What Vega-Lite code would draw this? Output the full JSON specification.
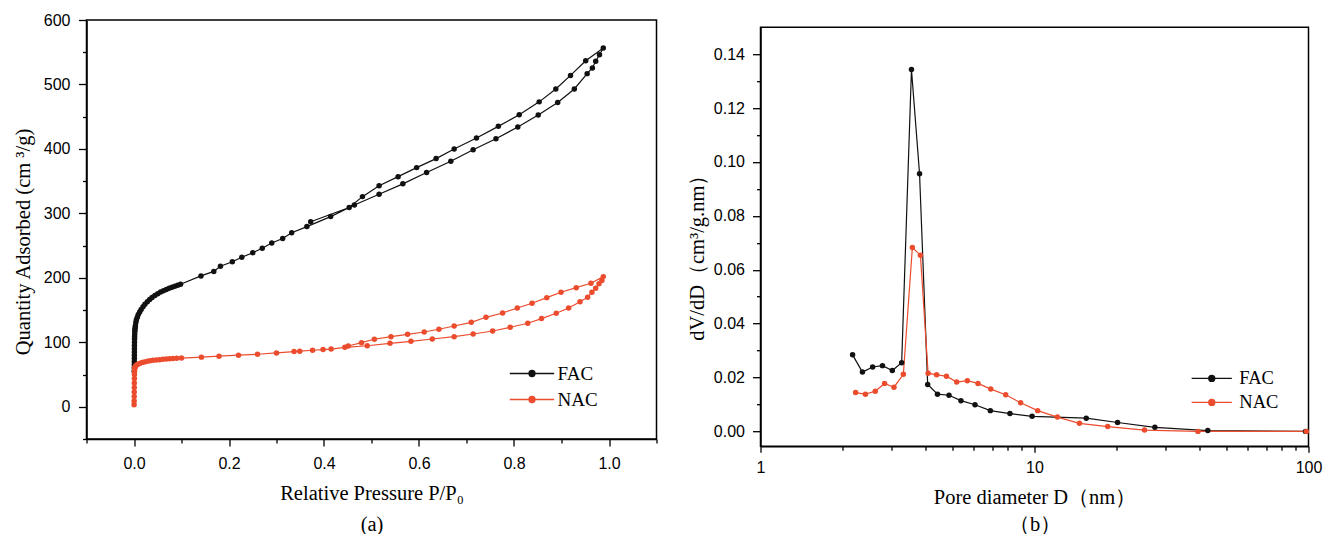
{
  "$schema": "https://vega.github.io/schema/vega-lite/v6.json",
  "background": "white",
  "padding": {"left": 11.5, "top": 11, "right": 0, "bottom": 0},
  "spacing": 28,
  "config": {
    "view": {"stroke": "#000000", "strokeWidth": 1.5},
    "axis": {
      "domainColor": "#000000", "domainWidth": 1.5, "tickColor": "#000000", "tickWidth": 1.3,
      "labelFont": "Liberation Sans", "labelFontSize": 16, "labelColor": "#000000",
      "titleFont": "Liberation Serif", "titleFontSize": 20.5, "titleFontWeight": "normal", "titleColor": "#000000",
      "grid": false, "labelFlush": false, "labelOverlap": false
    },
    "legend": {"labelFont": "Liberation Serif", "labelColor": "#000000", "padding": 0, "title": null}
  },
  "resolve": {"scale": {"color": "independent"}, "legend": {"color": "independent"}},
  "datasets": {
    "iso": [
      {"sample": "FAC", "i": 1, "p": 0.0005, "q": 55},
      {"sample": "FAC", "i": 2, "p": 0.0006, "q": 60},
      {"sample": "FAC", "i": 3, "p": 0.0007, "q": 65},
      {"sample": "FAC", "i": 4, "p": 0.0007, "q": 70},
      {"sample": "FAC", "i": 5, "p": 0.0008, "q": 75},
      {"sample": "FAC", "i": 6, "p": 0.0008, "q": 80},
      {"sample": "FAC", "i": 7, "p": 0.0009, "q": 85},
      {"sample": "FAC", "i": 8, "p": 0.0009, "q": 90},
      {"sample": "FAC", "i": 9, "p": 0.001, "q": 95},
      {"sample": "FAC", "i": 10, "p": 0.0011, "q": 100},
      {"sample": "FAC", "i": 11, "p": 0.0012, "q": 105},
      {"sample": "FAC", "i": 12, "p": 0.0013, "q": 109},
      {"sample": "FAC", "i": 13, "p": 0.0015, "q": 113},
      {"sample": "FAC", "i": 14, "p": 0.0017, "q": 117},
      {"sample": "FAC", "i": 15, "p": 0.002, "q": 120},
      {"sample": "FAC", "i": 16, "p": 0.0025, "q": 123},
      {"sample": "FAC", "i": 17, "p": 0.003, "q": 126},
      {"sample": "FAC", "i": 18, "p": 0.004, "q": 131},
      {"sample": "FAC", "i": 19, "p": 0.005, "q": 135},
      {"sample": "FAC", "i": 20, "p": 0.007, "q": 139},
      {"sample": "FAC", "i": 21, "p": 0.009, "q": 143},
      {"sample": "FAC", "i": 22, "p": 0.012, "q": 147},
      {"sample": "FAC", "i": 23, "p": 0.015, "q": 151},
      {"sample": "FAC", "i": 24, "p": 0.019, "q": 155},
      {"sample": "FAC", "i": 25, "p": 0.023, "q": 159},
      {"sample": "FAC", "i": 26, "p": 0.028, "q": 163},
      {"sample": "FAC", "i": 27, "p": 0.033, "q": 166.5},
      {"sample": "FAC", "i": 28, "p": 0.038, "q": 169.5},
      {"sample": "FAC", "i": 29, "p": 0.044, "q": 172.5},
      {"sample": "FAC", "i": 30, "p": 0.05, "q": 175.5},
      {"sample": "FAC", "i": 31, "p": 0.056, "q": 178},
      {"sample": "FAC", "i": 32, "p": 0.062, "q": 180},
      {"sample": "FAC", "i": 33, "p": 0.068, "q": 182},
      {"sample": "FAC", "i": 34, "p": 0.074, "q": 184},
      {"sample": "FAC", "i": 35, "p": 0.08, "q": 185.5},
      {"sample": "FAC", "i": 36, "p": 0.086, "q": 187},
      {"sample": "FAC", "i": 37, "p": 0.092, "q": 188.5},
      {"sample": "FAC", "i": 38, "p": 0.098, "q": 190},
      {"sample": "FAC", "i": 39, "p": 0.141, "q": 203},
      {"sample": "FAC", "i": 40, "p": 0.168, "q": 210},
      {"sample": "FAC", "i": 41, "p": 0.182, "q": 218},
      {"sample": "FAC", "i": 42, "p": 0.207, "q": 225},
      {"sample": "FAC", "i": 43, "p": 0.227, "q": 232},
      {"sample": "FAC", "i": 44, "p": 0.25, "q": 239},
      {"sample": "FAC", "i": 45, "p": 0.27, "q": 246},
      {"sample": "FAC", "i": 46, "p": 0.29, "q": 254},
      {"sample": "FAC", "i": 47, "p": 0.313, "q": 261},
      {"sample": "FAC", "i": 48, "p": 0.332, "q": 270},
      {"sample": "FAC", "i": 49, "p": 0.364, "q": 279.5},
      {"sample": "FAC", "i": 50, "p": 0.414, "q": 295},
      {"sample": "FAC", "i": 51, "p": 0.464, "q": 313},
      {"sample": "FAC", "i": 52, "p": 0.516, "q": 329.8},
      {"sample": "FAC", "i": 53, "p": 0.566, "q": 345.8},
      {"sample": "FAC", "i": 54, "p": 0.616, "q": 363.4},
      {"sample": "FAC", "i": 55, "p": 0.667, "q": 381},
      {"sample": "FAC", "i": 56, "p": 0.714, "q": 398.7},
      {"sample": "FAC", "i": 57, "p": 0.762, "q": 415.7},
      {"sample": "FAC", "i": 58, "p": 0.808, "q": 434},
      {"sample": "FAC", "i": 59, "p": 0.851, "q": 452.6},
      {"sample": "FAC", "i": 60, "p": 0.892, "q": 472},
      {"sample": "FAC", "i": 61, "p": 0.927, "q": 493},
      {"sample": "FAC", "i": 62, "p": 0.954, "q": 516.8},
      {"sample": "FAC", "i": 63, "p": 0.965, "q": 525.6},
      {"sample": "FAC", "i": 64, "p": 0.972, "q": 536},
      {"sample": "FAC", "i": 65, "p": 0.98, "q": 546},
      {"sample": "FAC", "i": 66, "p": 0.988, "q": 556.5},
      {"sample": "FAC", "i": 67, "p": 0.951, "q": 536.8},
      {"sample": "FAC", "i": 68, "p": 0.919, "q": 514},
      {"sample": "FAC", "i": 69, "p": 0.888, "q": 493},
      {"sample": "FAC", "i": 70, "p": 0.853, "q": 473},
      {"sample": "FAC", "i": 71, "p": 0.811, "q": 453},
      {"sample": "FAC", "i": 72, "p": 0.767, "q": 435},
      {"sample": "FAC", "i": 73, "p": 0.721, "q": 417},
      {"sample": "FAC", "i": 74, "p": 0.674, "q": 400},
      {"sample": "FAC", "i": 75, "p": 0.636, "q": 385},
      {"sample": "FAC", "i": 76, "p": 0.595, "q": 371},
      {"sample": "FAC", "i": 77, "p": 0.556, "q": 357},
      {"sample": "FAC", "i": 78, "p": 0.516, "q": 343},
      {"sample": "FAC", "i": 79, "p": 0.481, "q": 326},
      {"sample": "FAC", "i": 80, "p": 0.453, "q": 309},
      {"sample": "FAC", "i": 81, "p": 0.372, "q": 287},
      {"sample": "NAC", "i": 101, "p": 0.0002, "q": 3},
      {"sample": "NAC", "i": 102, "p": 0.0003, "q": 9},
      {"sample": "NAC", "i": 103, "p": 0.0004, "q": 16},
      {"sample": "NAC", "i": 104, "p": 0.0005, "q": 23},
      {"sample": "NAC", "i": 105, "p": 0.0006, "q": 30},
      {"sample": "NAC", "i": 106, "p": 0.0007, "q": 37},
      {"sample": "NAC", "i": 107, "p": 0.0008, "q": 44},
      {"sample": "NAC", "i": 108, "p": 0.0009, "q": 50},
      {"sample": "NAC", "i": 109, "p": 0.0011, "q": 55},
      {"sample": "NAC", "i": 110, "p": 0.0015, "q": 59},
      {"sample": "NAC", "i": 111, "p": 0.002, "q": 61.5},
      {"sample": "NAC", "i": 112, "p": 0.003, "q": 63},
      {"sample": "NAC", "i": 113, "p": 0.005, "q": 64.5},
      {"sample": "NAC", "i": 114, "p": 0.008, "q": 66},
      {"sample": "NAC", "i": 115, "p": 0.012, "q": 67.3},
      {"sample": "NAC", "i": 116, "p": 0.017, "q": 68.5},
      {"sample": "NAC", "i": 117, "p": 0.022, "q": 69.5},
      {"sample": "NAC", "i": 118, "p": 0.028, "q": 70.5},
      {"sample": "NAC", "i": 119, "p": 0.034, "q": 71.3},
      {"sample": "NAC", "i": 120, "p": 0.04, "q": 72},
      {"sample": "NAC", "i": 121, "p": 0.047, "q": 72.6},
      {"sample": "NAC", "i": 122, "p": 0.054, "q": 73.1},
      {"sample": "NAC", "i": 123, "p": 0.061, "q": 73.6},
      {"sample": "NAC", "i": 124, "p": 0.068, "q": 74},
      {"sample": "NAC", "i": 125, "p": 0.075, "q": 74.4},
      {"sample": "NAC", "i": 126, "p": 0.082, "q": 74.8},
      {"sample": "NAC", "i": 127, "p": 0.09, "q": 75.1},
      {"sample": "NAC", "i": 128, "p": 0.1, "q": 75.5},
      {"sample": "NAC", "i": 129, "p": 0.142, "q": 77},
      {"sample": "NAC", "i": 130, "p": 0.179, "q": 78.5},
      {"sample": "NAC", "i": 131, "p": 0.22, "q": 80},
      {"sample": "NAC", "i": 132, "p": 0.26, "q": 81.5},
      {"sample": "NAC", "i": 133, "p": 0.3, "q": 83.5},
      {"sample": "NAC", "i": 134, "p": 0.337, "q": 85.6},
      {"sample": "NAC", "i": 135, "p": 0.349, "q": 86.2},
      {"sample": "NAC", "i": 136, "p": 0.376, "q": 87.7},
      {"sample": "NAC", "i": 137, "p": 0.398, "q": 88.7},
      {"sample": "NAC", "i": 138, "p": 0.415, "q": 89.5},
      {"sample": "NAC", "i": 139, "p": 0.444, "q": 92.2},
      {"sample": "NAC", "i": 140, "p": 0.491, "q": 94.7},
      {"sample": "NAC", "i": 141, "p": 0.539, "q": 98.4},
      {"sample": "NAC", "i": 142, "p": 0.583, "q": 101.5},
      {"sample": "NAC", "i": 143, "p": 0.628, "q": 105.1},
      {"sample": "NAC", "i": 144, "p": 0.674, "q": 108.7},
      {"sample": "NAC", "i": 145, "p": 0.714, "q": 112.9},
      {"sample": "NAC", "i": 146, "p": 0.755, "q": 117.5},
      {"sample": "NAC", "i": 147, "p": 0.792, "q": 123.3},
      {"sample": "NAC", "i": 148, "p": 0.829, "q": 129.5},
      {"sample": "NAC", "i": 149, "p": 0.858, "q": 136.8},
      {"sample": "NAC", "i": 150, "p": 0.889, "q": 145},
      {"sample": "NAC", "i": 151, "p": 0.915, "q": 153.3},
      {"sample": "NAC", "i": 152, "p": 0.939, "q": 163},
      {"sample": "NAC", "i": 153, "p": 0.955, "q": 170},
      {"sample": "NAC", "i": 154, "p": 0.964, "q": 177.6},
      {"sample": "NAC", "i": 155, "p": 0.972, "q": 184},
      {"sample": "NAC", "i": 156, "p": 0.979, "q": 191},
      {"sample": "NAC", "i": 157, "p": 0.985, "q": 196},
      {"sample": "NAC", "i": 158, "p": 0.988, "q": 201.9},
      {"sample": "NAC", "i": 159, "p": 0.962, "q": 191.6},
      {"sample": "NAC", "i": 160, "p": 0.931, "q": 184.8},
      {"sample": "NAC", "i": 161, "p": 0.899, "q": 177.6},
      {"sample": "NAC", "i": 162, "p": 0.869, "q": 169.3},
      {"sample": "NAC", "i": 163, "p": 0.838, "q": 160.6},
      {"sample": "NAC", "i": 164, "p": 0.807, "q": 153.3},
      {"sample": "NAC", "i": 165, "p": 0.776, "q": 145.5},
      {"sample": "NAC", "i": 166, "p": 0.741, "q": 138.8},
      {"sample": "NAC", "i": 167, "p": 0.71, "q": 131},
      {"sample": "NAC", "i": 168, "p": 0.674, "q": 125.3},
      {"sample": "NAC", "i": 169, "p": 0.642, "q": 120.2},
      {"sample": "NAC", "i": 170, "p": 0.611, "q": 116},
      {"sample": "NAC", "i": 171, "p": 0.576, "q": 112.4},
      {"sample": "NAC", "i": 172, "p": 0.541, "q": 108.7},
      {"sample": "NAC", "i": 173, "p": 0.506, "q": 104.7},
      {"sample": "NAC", "i": 174, "p": 0.479, "q": 99.4},
      {"sample": "NAC", "i": 175, "p": 0.451, "q": 94.3}
    ],
    "psd": [
      {"sample": "FAC", "d": 2.168, "v": 0.0284},
      {"sample": "FAC", "d": 2.355, "v": 0.022},
      {"sample": "FAC", "d": 2.566, "v": 0.0239},
      {"sample": "FAC", "d": 2.787, "v": 0.0244},
      {"sample": "FAC", "d": 3.027, "v": 0.0226},
      {"sample": "FAC", "d": 3.275, "v": 0.0255},
      {"sample": "FAC", "d": 3.556, "v": 0.1343},
      {"sample": "FAC", "d": 3.806, "v": 0.0956},
      {"sample": "FAC", "d": 4.075, "v": 0.0174},
      {"sample": "FAC", "d": 4.425, "v": 0.0138},
      {"sample": "FAC", "d": 4.875, "v": 0.0134},
      {"sample": "FAC", "d": 5.389, "v": 0.0114},
      {"sample": "FAC", "d": 6.066, "v": 0.0099},
      {"sample": "FAC", "d": 6.9, "v": 0.0077},
      {"sample": "FAC", "d": 8.136, "v": 0.0066},
      {"sample": "FAC", "d": 9.8, "v": 0.0056},
      {"sample": "FAC", "d": 15.45, "v": 0.0049},
      {"sample": "FAC", "d": 20.1, "v": 0.0033},
      {"sample": "FAC", "d": 27.5, "v": 0.0015},
      {"sample": "FAC", "d": 42.9, "v": 0.0003},
      {"sample": "FAC", "d": 97.5, "v": 0.0},
      {"sample": "NAC", "d": 2.224, "v": 0.0144},
      {"sample": "NAC", "d": 2.415, "v": 0.0138},
      {"sample": "NAC", "d": 2.623, "v": 0.0149},
      {"sample": "NAC", "d": 2.837, "v": 0.0178},
      {"sample": "NAC", "d": 3.07, "v": 0.0164},
      {"sample": "NAC", "d": 3.322, "v": 0.0212},
      {"sample": "NAC", "d": 3.583, "v": 0.0682},
      {"sample": "NAC", "d": 3.834, "v": 0.0654},
      {"sample": "NAC", "d": 4.09, "v": 0.0216},
      {"sample": "NAC", "d": 4.393, "v": 0.021},
      {"sample": "NAC", "d": 4.771, "v": 0.0205},
      {"sample": "NAC", "d": 5.2, "v": 0.0183},
      {"sample": "NAC", "d": 5.687, "v": 0.0188},
      {"sample": "NAC", "d": 6.22, "v": 0.0178},
      {"sample": "NAC", "d": 6.926, "v": 0.0157},
      {"sample": "NAC", "d": 7.85, "v": 0.0136},
      {"sample": "NAC", "d": 8.9, "v": 0.0106},
      {"sample": "NAC", "d": 10.27, "v": 0.0077},
      {"sample": "NAC", "d": 12.12, "v": 0.0053},
      {"sample": "NAC", "d": 14.59, "v": 0.003},
      {"sample": "NAC", "d": 18.5, "v": 0.0018},
      {"sample": "NAC", "d": 25.2, "v": 0.0005},
      {"sample": "NAC", "d": 39.5, "v": 0.0},
      {"sample": "NAC", "d": 98.2, "v": 0.0}
    ]
  },
  "hconcat": [
    {
      "width": 570,
      "height": 419,
      "data": {"name": "iso"},
      "encoding": {
        "x": {
          "field": "p", "type": "quantitative",
          "scale": {"domain": [-0.1, 1.1], "nice": false, "zero": false},
          "axis": {
            "values": [-0.1, 0, 0.1, 0.2, 0.3, 0.4, 0.5, 0.6, 0.7, 0.8, 0.9, 1.0, 1.1],
            "labelExpr": "abs(round(datum.value*10)) % 2 == 0 ? format(datum.value, '.1f') : ''",
            "tickSize": {"condition": {"test": "abs(round(datum.value*10)) % 2 == 0", "value": 7}, "value": 4},
            "labelPadding": 9,
            "title": ["Relative Pressure P/P₀", "(a)"],
            "titleY": 44, "titleBaseline": "top", "titleLineHeight": 31.5
          }
        },
        "y": {
          "field": "q", "type": "quantitative",
          "scale": {"domain": [-50, 600], "nice": false, "zero": false},
          "axis": {
            "values": [-50, 0, 50, 100, 150, 200, 250, 300, 350, 400, 450, 500, 550, 600],
            "labelExpr": "datum.value >= 0 && datum.value % 100 == 0 ? format(datum.value, 'd') : ''",
            "tickSize": {"condition": {"test": "datum.value >= 0 && datum.value % 100 == 0", "value": 8}, "value": 4},
            "labelPadding": 8.5,
            "title": "Quantity Adsorbed (cm ³/g)",
            "titleX": -63.5, "titleY": 221.5, "titleAlign": "center", "titleBaseline": "middle", "titleAngle": -90
          }
        },
        "color": {
          "field": "sample", "type": "nominal",
          "scale": {"domain": ["FAC", "NAC"], "range": ["#111111", "#ec4c2e"]},
          "legend": {
            "orient": "none", "legendX": 436, "legendY": 344,
            "symbolType": "M-7.4,0H7.4M-1,0A1,1,0,1,0,1,0A1,1,0,1,0,-1,0Z",
            "symbolSize": 36, "labelOffset": 16, "labelFontSize": 19, "rowPadding": 6,
            "encode": {"symbols": {"update": {
              "fill": {"signal": "datum.value === 'FAC' ? '#111111' : '#ec4c2e'"},
              "stroke": {"signal": "datum.value === 'FAC' ? '#111111' : '#ec4c2e'"},
              "strokeWidth": {"value": 1.3}, "opacity": {"value": 1}
            }}}
          }
        }
      },
      "layer": [
        {"mark": {"type": "line", "strokeWidth": 1.2}, "encoding": {"order": {"field": "i", "type": "quantitative"}}},
        {"mark": {"type": "point", "filled": true, "size": 30, "opacity": 1}}
      ]
    },
    {
      "spacing": 5.2,
      "resolve": {"scale": {"color": "independent"}, "legend": {"color": "independent"}},
      "vconcat": [
        {
          "width": 548,
          "height": 1,
          "view": {"stroke": null, "fill": null},
          "data": {"values": []},
          "mark": "point"
        },
        {
          "width": 548,
          "height": 419,
          "data": {"name": "psd"},
          "encoding": {
            "x": {
              "field": "d", "type": "quantitative",
              "scale": {"type": "log", "domain": [1, 100], "nice": false},
              "axis": {
                "values": [1, 2, 3, 4, 5, 6, 7, 8, 9, 10, 20, 30, 40, 50, 60, 70, 80, 90, 100],
                "labelExpr": "datum.value == 1 || datum.value == 10 || datum.value == 100 ? format(datum.value, 'd') : ''",
                "tickSize": {"condition": {"test": "datum.value == 1 || datum.value == 10 || datum.value == 100", "value": 6}, "value": 4},
                "labelPadding": 7.3,
                "title": ["Pore diameter D（nm）", "（b）"],
                "titleY": 41, "titleBaseline": "top", "titleLineHeight": 27
              }
            },
            "y": {
              "field": "v", "type": "quantitative",
              "scale": {"domain": [-0.0055, 0.15], "nice": false, "zero": false},
              "axis": {
                "values": [0, 0.01, 0.02, 0.03, 0.04, 0.05, 0.06, 0.07, 0.08, 0.09, 0.1, 0.11, 0.12, 0.13, 0.14],
                "labelExpr": "round(datum.value*100) % 2 == 0 ? format(datum.value, '.2f') : ''",
                "tickSize": {"condition": {"test": "round(datum.value*100) % 2 == 0", "value": 8}, "value": 4},
                "labelPadding": 8,
                "title": "dV/dD（cm³/g.nm）",
                "titleX": -62.7, "titleY": 225, "titleAlign": "center", "titleBaseline": "middle", "titleAngle": -90
              }
            },
            "color": {
              "field": "sample", "type": "nominal",
              "scale": {"domain": ["FAC", "NAC"], "range": ["#111111", "#ec4c2e"]},
              "legend": {
                "orient": "none", "legendX": 442, "legendY": 342,
                "symbolType": "M-6.7,0H6.7M-1,0A1,1,0,1,0,1,0A1,1,0,1,0,-1,0Z",
                "symbolSize": 36, "labelOffset": 18.3, "labelFontSize": 18.5, "rowPadding": 5,
                "encode": {"symbols": {"update": {
                  "fill": {"signal": "datum.value === 'FAC' ? '#111111' : '#ec4c2e'"},
                  "stroke": {"signal": "datum.value === 'FAC' ? '#111111' : '#ec4c2e'"},
                  "strokeWidth": {"value": 1.3}, "opacity": {"value": 1}
                }}}
              }
            }
          },
          "layer": [
            {"mark": {"type": "line", "strokeWidth": 1.2}},
            {"mark": {"type": "point", "filled": true, "size": 30, "opacity": 1}}
          ]
        }
      ]
    }
  ]
}
